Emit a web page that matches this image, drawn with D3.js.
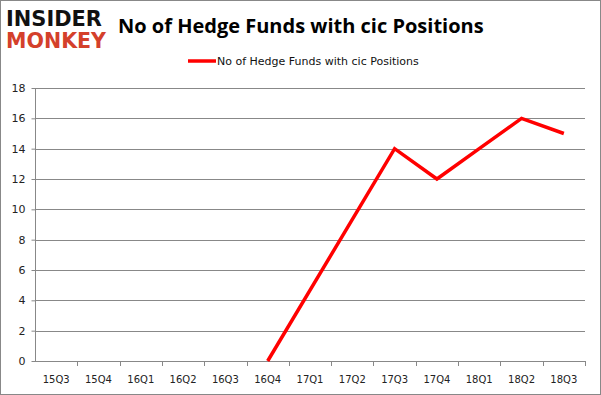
<!DOCTYPE html>
<html>
<head>
<meta charset="utf-8">
<script src="https://cdn.jsdelivr.net/npm/d3@7"></script>
<style>
  body { margin: 0; background: #fff; }
  svg text { font-family: "DejaVu Sans", sans-serif; }
</style>
</head>
<body>
<script>
// chart data (17Q1, 17Q2 are gaps that the line spans)
var quarters = ["15Q3","15Q4","16Q1","16Q2","16Q3","16Q4","17Q1","17Q2","17Q3","17Q4","18Q1","18Q2","18Q3"];
var funds = [null, null, null, null, null, 0, null, null, 14, 12, 14, 16, 15];
var yTicks = [0, 2, 4, 6, 8, 10, 12, 14, 16, 18];
var seriesName = "No of Hedge Funds with cic Positions";

var W = 601, H = 395;
var m = { l: 35, r: 16, t: 88, b: 34 };

var svg = d3.select("body").append("svg").attr("width", W).attr("height", H);

// frame
svg.append("rect").attr("x", 0.5).attr("y", 0.5).attr("width", W - 1).attr("height", H - 1)
	.attr("fill", "#fff").attr("stroke", "#888").attr("stroke-width", 1);

// logo
svg.append("text").attr("x", 6).attr("y", 26).attr("font-size", 21).attr("font-weight", "bold")
	.attr("fill", "#111").attr("textLength", 96).attr("lengthAdjust", "spacingAndGlyphs").text("INSIDER");
svg.append("text").attr("x", 6).attr("y", 48).attr("font-size", 21).attr("font-weight", "bold")
	.attr("fill", "#d4402b").attr("textLength", 100).attr("lengthAdjust", "spacingAndGlyphs").text("MONKEY");

// title
svg.append("text").attr("x", 118).attr("y", 33).attr("font-size", 20).attr("font-weight", "bold")
	.style("font-family", "'Open Sans', 'DejaVu Sans', sans-serif")
	.attr("fill", "#000").text("No of Hedge Funds with cic Positions");

// scales
var x = d3.scaleBand().domain(quarters).range([m.l, W - m.r]);
var y = d3.scaleLinear().domain([0, 18]).range([H - m.b, m.t]);

// grid
svg.append("g").selectAll("line").data(yTicks.filter(function(d){ return d > 0; })).enter().append("line")
	.attr("x1", m.l).attr("x2", W - m.r)
	.attr("y1", function(d){ return Math.round(y(d)) + 0.5; })
	.attr("y2", function(d){ return Math.round(y(d)) + 0.5; })
	.attr("stroke", "#888").attr("stroke-width", 1);

// y axis
var gy = svg.append("g").attr("transform", "translate(" + (m.l + 0.5) + ",0)")
	.call(d3.axisLeft(y).tickValues(yTicks).tickSize(4).tickPadding(6));
gy.select(".domain").attr("stroke", "#888").attr("d", "M0," + y(18) + "V" + y(0));
gy.selectAll(".tick line").attr("stroke", "#888");
gy.selectAll(".tick text").attr("font-size", 11).attr("fill", "#222");

// x axis
var gx = svg.append("g").attr("transform", "translate(0," + (Math.round(y(0)) + 0.5) + ")")
	.call(d3.axisBottom(x).tickSize(0).tickPadding(14));
gx.select(".domain").attr("stroke", "#888").attr("d", "M" + m.l + ",0H" + (W - m.r));
gx.selectAll(".tick text").attr("font-size", 10).attr("fill", "#222");
svg.append("g").selectAll("line").data(quarters).enter().append("line")
	.attr("x1", function(d){ return Math.round(x(d) + x.step()) + 0.5; })
	.attr("x2", function(d){ return Math.round(x(d) + x.step()) + 0.5; })
	.attr("y1", y(0)).attr("y2", y(0) + 5).attr("stroke", "#888");

// line, gaps spanned
var pts = quarters.map(function(q, i){ return { q: q, v: funds[i] }; })
	.filter(function(d){ return d.v != null; });
var line = d3.line()
	.x(function(d){ return x(d.q) + x.bandwidth() / 2; })
	.y(function(d){ return y(d.v); });
svg.append("path").datum(pts).attr("d", line)
	.attr("fill", "none").attr("stroke", "#ff0000").attr("stroke-width", 3.5);

// legend
svg.append("line").attr("x1", 188).attr("x2", 216).attr("y1", 61).attr("y2", 61)
	.attr("stroke", "#ff0000").attr("stroke-width", 3.5);
svg.append("text").attr("x", 217).attr("y", 65).attr("font-size", 11).attr("fill", "#111")
	.text(seriesName);
</script>
</body>
</html>
